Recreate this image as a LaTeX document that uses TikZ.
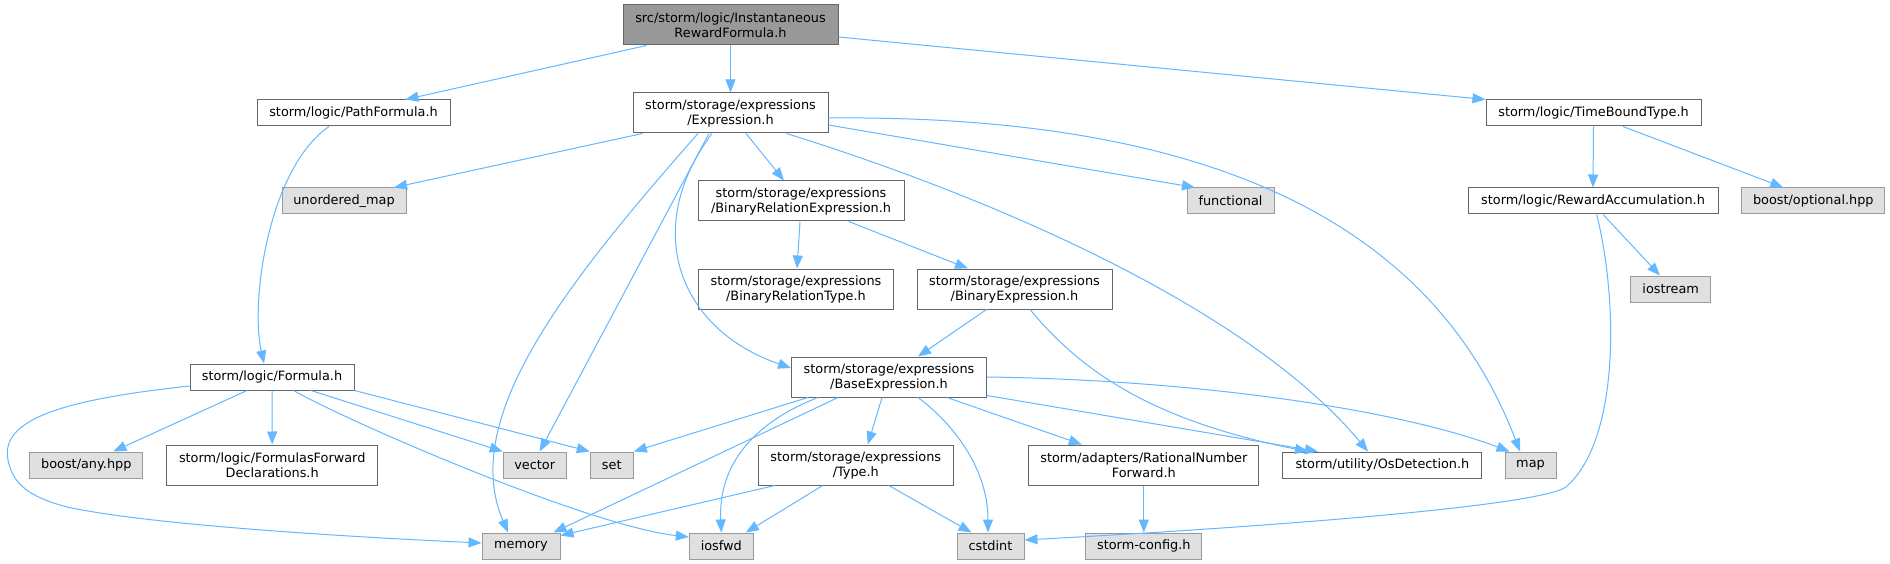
\documentclass[tikz,border=0pt]{standalone}
\usepackage{fontspec}
\setmainfont{DejaVu Sans}
\usetikzlibrary{arrows.meta}
\definecolor{edgeblue}{HTML}{63B8FF}
\definecolor{boxline}{HTML}{666666}
\definecolor{sysline}{HTML}{999999}
\definecolor{sysfill}{HTML}{E0E0E0}
\definecolor{curfill}{HTML}{999999}

\begin{document}
\begin{tikzpicture}[
    x=1pt, y=-1pt,
    hdr/.style={draw=boxline, fill=white, line width=1pt, inner sep=0pt, align=center,
                font=\fontsize{12.85}{15}\selectfont},
    sys/.style={hdr, draw=sysline, fill=sysfill},
    cur/.style={hdr, fill=curfill},
    short/.style={minimum height=26pt},
    tall/.style={minimum height=40pt},
    inc/.style={draw=edgeblue, line width=1pt, -{Triangle[length=13pt, width=10pt]}},
  ]

  \fill[white] (0,0) rectangle (1890,564);
  \useasboundingbox (0,0) rectangle (1890,564);

  % ---------- row 0
  \node[cur, tall, minimum width=215pt] (root) at (730.5,25) {src/storm/logic/Instantaneous\\RewardFormula.h};

  % ---------- row 1
  \node[hdr, short, minimum width=193pt] (pathf) at (353.5,113) {storm/logic/PathFormula.h};
  \node[hdr, tall, minimum width=195pt] (expr) at (730.5,113) {storm/storage/expressions\\/Expression.h};
  \node[hdr, short, minimum width=215pt] (tbt) at (1593.5,113) {storm/logic/TimeBoundType.h};

  % ---------- row 2
  \node[sys, short, minimum width=124pt] (umap) at (344,201) {unordered\_map};
  \node[hdr, tall, minimum width=206pt] (bre) at (801,201) {storm/storage/expressions\\/BinaryRelationExpression.h};
  \node[sys, short, minimum width=87pt] (func) at (1230.5,201) {functional};
  \node[hdr, short, minimum width=250pt] (racc) at (1593,201) {storm/logic/RewardAccumulation.h};
  \node[sys, short, minimum width=143pt] (bopt) at (1813.3,201) {boost/optional.hpp};

  % ---------- row 3
  \node[hdr, tall, minimum width=195pt] (brt) at (796,289) {storm/storage/expressions\\/BinaryRelationType.h};
  \node[hdr, tall, minimum width=195pt] (bexp) at (1014.5,289) {storm/storage/expressions\\/BinaryExpression.h};
  \node[sys, short, minimum width=80pt] (iostr) at (1670.7,289) {iostream};

  % ---------- row 4
  \node[hdr, short, minimum width=164pt] (formula) at (272,377) {storm/logic/Formula.h};
  \node[hdr, tall, minimum width=195pt] (base) at (889,377) {storm/storage/expressions\\/BaseExpression.h};

  % ---------- row 5
  \node[sys, short, minimum width=113pt] (bany) at (86.3,465) {boost/any.hpp};
  \node[hdr, tall, minimum width=211pt] (ffd) at (272.2,465) {storm/logic/FormulasForward\\Declarations.h};
  \node[sys, short, minimum width=63pt] (vector) at (534.7,465) {vector};
  \node[sys, short, minimum width=43pt] (set) at (611.8,465) {set};
  \node[hdr, tall, minimum width=195pt] (typeh) at (855.8,465) {storm/storage/expressions\\/Type.h};
  \node[hdr, tall, minimum width=230pt] (rnf) at (1143.8,465) {storm/adapters/RationalNumber\\Forward.h};
  \node[hdr, short, minimum width=199pt] (osdet) at (1382.4,465) {storm/utility/OsDetection.h};
  \node[sys, short, minimum width=51pt] (map) at (1530.5,465) {map};

  % ---------- row 6
  \node[sys, short, minimum width=78pt] (memory) at (521,546) {memory};
  \node[sys, short, minimum width=64pt] (iosfwd) at (721.3,546) {iosfwd};
  \node[sys, short, minimum width=67pt] (cstdint) at (990.5,546) {cstdint};
  \node[sys, short, minimum width=116pt] (sconf) at (1143.8,546) {storm-config.h};

  % ---------- root
  \draw[inc] ([xshift=-84pt]root.south) -- ([xshift=52pt]pathf.north);
  \draw[inc] (root.south) -- (expr.north);
  \draw[inc] ([yshift=-12pt]root.east) -- (tbt.north west);

  % ---------- PathFormula.h
  \draw[inc] ([xshift=-24.5pt]pathf.south) .. controls (269,168) and (250,300) .. ([xshift=-8pt]formula.north);

  % ---------- Expression.h
  \draw[inc] ([xshift=10pt]expr.south west) -- ([xshift=50pt]umap.north);
  \draw[inc] ([xshift=-32.5pt]expr.south) .. controls (560,290) and (460,420) .. ([xshift=-13pt]memory.north);
  \draw[inc] ([xshift=-21.5pt]expr.south) -- ([xshift=5pt]vector.north);
  \draw[inc] ([xshift=-18.5pt]expr.south) .. controls (640,230) and (680,330) .. ([yshift=9pt]base.west);
  \draw[inc] ([xshift=15.5pt]expr.south) -- ([xshift=-17pt]bre.north);
  \draw[inc] ([xshift=56pt]expr.south) .. controls (1000,200) and (1250,310) .. ([xshift=-14.4pt]osdet.north);
  \draw[inc] ([yshift=-12pt]expr.east) -- ([xshift=8.5pt]func.north west);
  \draw[inc] ([yshift=-5pt]expr.east) .. controls (1150,115) and (1420,190) .. ([xshift=-10.5pt]map.north);

  % ---------- BinaryRelationExpression.h
  \draw[inc] ([xshift=-1pt]bre.south) -- ([xshift=1pt]brt.north);
  \draw[inc] ([xshift=47.7pt]bre.south) -- ([xshift=-46.5pt]bexp.north);

  % ---------- BinaryExpression.h
  \draw[inc] ([xshift=-28pt]bexp.south) -- ([xshift=29pt]base.north);
  \draw[inc] ([xshift=15.5pt]bexp.south) .. controls (1080,370) and (1150,420) .. ([xshift=-74.4pt]osdet.north);

  % ---------- BaseExpression.h
  \draw[inc] ([xshift=-81pt]base.south) -- (set.north east);
  \draw[inc] ([xshift=-51pt]base.south) -- ([xshift=-7pt]memory.north east);
  \draw[inc] ([xshift=-71pt]base.south) .. controls (760,420) and (718,460) .. (iosfwd.north);
  \draw[inc] ([xshift=-7pt]base.south) -- ([xshift=12pt]typeh.north);
  \draw[inc] ([xshift=29pt]base.south) .. controls (955,425) and (988,470) .. ([xshift=-2.5pt]cstdint.north);
  \draw[inc] ([xshift=58pt]base.south) -- ([xshift=-62pt]rnf.north);
  \draw[inc] ([yshift=2pt]base.south east) -- ([xshift=-64.4pt]osdet.north);
  \draw[inc] (base.east) .. controls (1200,380) and (1400,410) .. ([xshift=5pt]map.north west);

  % ---------- Type.h
  \draw[inc] ([xshift=17pt]typeh.south west) -- ([yshift=-3pt]memory.north east);
  \draw[inc] ([xshift=-33pt]typeh.south) -- ([xshift=-8pt]iosfwd.north east);
  \draw[inc] ([xshift=33pt]typeh.south) -- ([xshift=15pt]cstdint.north west);

  % ---------- RationalNumberForward.h
  \draw[inc] (rnf.south) -- (sconf.north);

  % ---------- Formula.h
  \draw[inc] ([xshift=-25pt]formula.south) -- ([xshift=27pt]bany.north);
  \draw[inc] (formula.south) -- (ffd.north);
  \draw[inc] ([xshift=39pt]formula.south) -- (vector.north west);
  \draw[inc] (formula.south east) -- (set.north west);
  \draw[inc] ([xshift=21.5pt]formula.south) .. controls (353,424) and (590,526) .. ([yshift=9pt]iosfwd.west);
  \draw[inc] ([yshift=-9pt]formula.west) .. controls (60,400) and (0,420) .. (8,460)
    .. controls (13,485) and (30,497) .. (67,507)
    .. controls (150,525) and (350,537) .. ([yshift=3pt]memory.west);

  % ---------- TimeBoundType.h
  \draw[inc] (tbt.south) -- (racc.north);
  \draw[inc] ([xshift=29.5pt]tbt.south) -- ([xshift=-30pt]bopt.north);

  % ---------- RewardAccumulation.h
  \draw[inc] ([xshift=10pt]racc.south) -- ([xshift=-10.7pt]iostr.north);
  \draw[inc] ([xshift=3.7pt]racc.south) .. controls (1618,300) and (1620,440) .. (1566,487)
    .. controls (1540,505) and (1300,525) .. ([yshift=6pt]cstdint.east);

\end{tikzpicture}
\end{document}
